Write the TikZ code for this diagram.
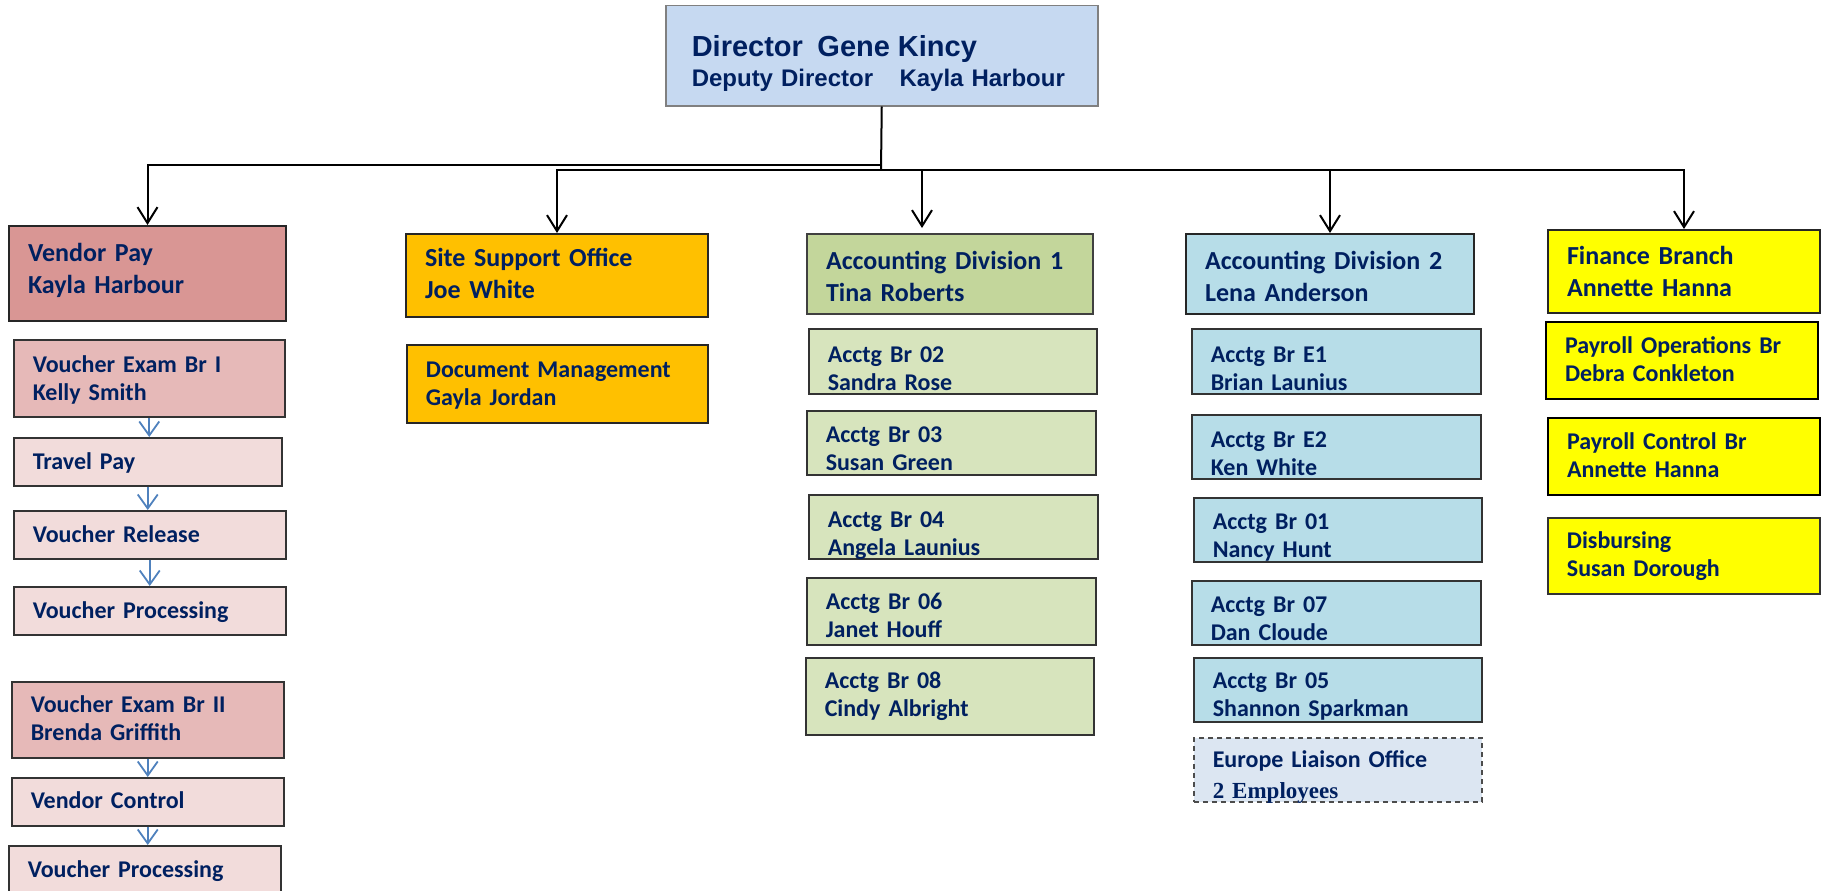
\documentclass[tikz,border=0pt]{standalone}
\usepackage{fontspec}
\setmainfont{Carlito}
\newfontfamily\arialfont{Liberation Sans}
\newfontfamily\timesfont{Liberation Serif}
\usetikzlibrary{arrows.meta}
\definecolor{navy}{HTML}{002060}
\definecolor{dirblue}{HTML}{C6D9F1}
\definecolor{vpred}{HTML}{D99694}
\definecolor{vepink}{HTML}{E6B9B8}
\definecolor{vlpink}{HTML}{F2DCDB}
\definecolor{orng}{HTML}{FFC000}
\definecolor{adgreen}{HTML}{C3D69B}
\definecolor{brgreen}{HTML}{D7E4BD}
\definecolor{adblue}{HTML}{B7DDE8}
\definecolor{eublue}{HTML}{DCE6F2}
\definecolor{flowblue}{HTML}{4F81BD}
\definecolor{yllw}{HTML}{FFFF00}
\tikzset{
  unit/.style={anchor=north west, align=left, inner xsep=19pt, inner ysep=0pt, text=navy},
  box/.style n args={3}{text width=#1pt, text height=#2pt, text depth=#3pt},
  dirbox/.style={unit, inner xsep=26pt, draw=black!50, line width=1.5pt, fill=dirblue,
    font=\arialfont\bfseries\fontsize{24}{30}\selectfont},
  hdr/.style={unit, draw=black!85, line width=2pt, font=\bfseries\fontsize{26}{32}\selectfont},
  sub/.style={unit, draw=black!80, line width=1.5pt, font=\bfseries\fontsize{24}{28}\selectfont},
  link/.style={line width=2pt, draw=black},
  arr/.style={link, -{Straight Barb[length=16pt,width=20pt]}},
  flow/.style={line width=1.8pt, draw=flowblue, -{Straight Barb[length=14pt,width=20pt]}}
}
\begin{document}
\begin{tikzpicture}[x=1pt,y=-1pt]
\useasboundingbox (0,0) rectangle (1824,891);
% director
\node[dirbox, box={380}{51}{49}] (dir) at (665,5)
  {{\fontsize{29}{30}\selectfont Director\hspace{0.5em}Gene Kincy}\\Deputy Director\hspace{1.1em}Kayla Harbour};
% vendor pay
\node[hdr, fill=vpred, box={239}{35}{60}] (vp) at (8,225) {Vendor Pay\\Kayla Harbour};
\node[sub, fill=vepink, box={233}{33}{44}] (ve1) at (13,339) {Voucher Exam Br I\\Kelly Smith};
\node[sub, fill=vlpink, box={230}{32}{16}] (tp) at (13,437) {Travel Pay};
\node[sub, fill=vlpink, box={234}{32}{16}] (vr) at (13,510) {Voucher Release};
\node[sub, fill=vlpink, box={234}{32}{16}] (vpa) at (13,586) {Voucher Processing};
\node[sub, fill=vepink, box={234}{31}{45}] (ve2) at (11,681) {Voucher Exam Br II\\Brenda Griffith};
\node[sub, fill=vlpink, box={234}{31}{17}] (vc) at (11,777) {Vendor Control};
\node[sub, fill=vlpink, box={234}{32}{20}] (vpb) at (8,845) {Voucher Processing};
% site support
\node[hdr, fill=orng, box={264}{32}{51}] (sso) at (405,233) {Site Support Office\\Joe White};
\node[hdr, fill=orng, line width=1.8pt, font=\bfseries\fontsize{24}{28}\selectfont,
  box={263}{33}{45}] (dm) at (406,344) {Document Management\\Gayla Jordan};
% accounting division 1
\node[hdr, fill=adgreen, draw=black!75, box={248}{35}{45}] (ad1) at (806,233) {Accounting Division 1\\Tina Roberts};
\node[sub, fill=brgreen, box={250}{34}{31}] (b02) at (808,328) {Acctg Br 02\\Sandra Rose};
\node[sub, fill=brgreen, box={251}{32}{32}] (b03) at (806,410) {Acctg Br 03\\Susan Green};
\node[sub, fill=brgreen, box={251}{33}{31}] (b04) at (808,494) {Acctg Br 04\\Angela Launius};
\node[sub, fill=brgreen, box={251}{32}{35}] (b06) at (806,577) {Acctg Br 06\\Janet Houff};
\node[sub, fill=brgreen, box={250}{31}{46}] (b08) at (805,657) {Acctg Br 08\\Cindy Albright};
% accounting division 2
\node[hdr, fill=adblue, box={250}{35}{45}] (ad2) at (1185,233) {Accounting Division 2\\Lena Anderson};
\node[sub, fill=adblue, box={251}{34}{31}] (e1) at (1191,328) {Acctg Br E1\\Brian Launius};
\node[sub, fill=adblue, box={251}{33}{31}] (e2) at (1191,414) {Acctg Br E2\\Ken White};
\node[sub, fill=adblue, box={250}{32}{32}] (b01) at (1193,497) {Acctg Br 01\\Nancy Hunt};
\node[sub, fill=adblue, box={251}{32}{32}] (b07) at (1191,580) {Acctg Br 07\\Dan Cloude};
\node[sub, fill=adblue, box={250}{31}{33}] (b05) at (1193,657) {Acctg Br 05\\Shannon Sparkman};
\node[sub, fill=eublue, draw=black!70, dash pattern=on 5pt off 4pt, box={250}{30}{34}] (eu) at (1193,737)
  {Europe Liaison Office\\[3pt]{\timesfont\fontsize{23}{28}\selectfont 2 Employees}};
% finance branch
\node[hdr, fill=yllw, box={234}{34}{49}] (fb) at (1547,229) {Finance Branch\\Annette Hanna};
\node[sub, fill=yllw, line width=2pt, draw=black, box={234}{31}{46}] (po) at (1545,321) {Payroll Operations Br\\Debra Conkleton};
\node[sub, fill=yllw, line width=2pt, draw=black, box={234}{31}{46}] (pc) at (1547,417) {Payroll Control Br\\Annette Hanna};
\node[sub, fill=yllw, line width=1.8pt, box={234}{31}{45}] (ds) at (1547,517) {Disbursing\\Susan Dorough};
% connectors
\coordinate (busA) at (881,165);
\coordinate (busB) at (881,170);
\draw[link] (dir.south) -- (busB);
\draw[arr] (busA) -| (vp.north);
\draw[arr] (busB) -| (sso.north);
\draw[arr] (busB) -| ([xshift=-28pt,yshift=5pt]ad1.north);
\draw[arr] (busB) -| (ad2.north);
\draw[arr] (busB) -| (fb.north);
\draw[flow] (ve1.south) -- (ve1.south |- tp.north);
\draw[flow] (tp.south) -- (tp.south |- vr.north);
\draw[flow] (vr.south) -- (vr.south |- vpa.north);
\draw[flow] (ve2.south) -- (ve2.south |- vc.north);
\draw[flow] (vc.south) -- (vc.south |- vpb.north);
\end{tikzpicture}
\end{document}
